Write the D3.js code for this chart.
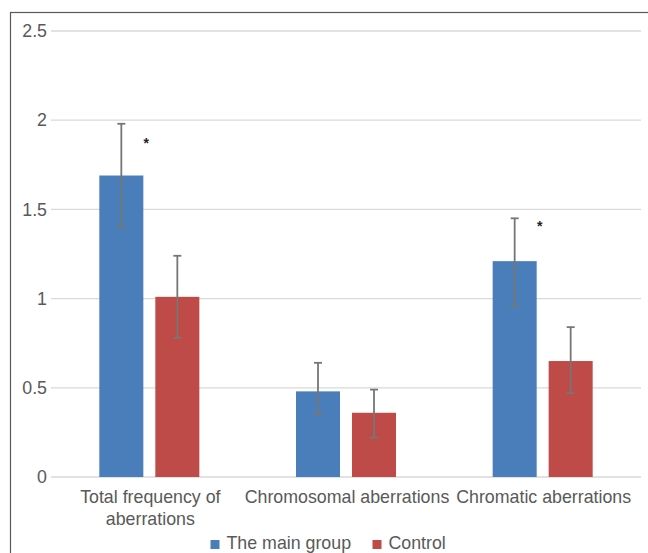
<!DOCTYPE html>
<html>
<head>
<meta charset="utf-8">
<script src="https://cdn.jsdelivr.net/npm/d3@7"></script>
<style>
  body { margin: 0; background: #fff; }
  svg text { font-family: "Liberation Sans", Arial, sans-serif; fill: #595959; }
</style>
</head>
<body>
<div id="chart"></div>
<script>
// data
var categories = ["Total frequency of\naberrations", "Chromosomal aberrations", "Chromatic aberrations"];
var series = ["The main group", "Control"];
var mainValues = [1.69, 0.48, 1.21];
var mainLow = [1.40, 0.35, 0.96];
var mainHigh = [1.98, 0.64, 1.45];
var controlValues = [1.01, 0.36, 0.65];
var controlLow = [0.78, 0.22, 0.47];
var controlHigh = [1.24, 0.49, 0.84];
var starAt = [1.88, null, 1.41];   // asterisks next to the main group bars
var yTicks = [0, 0.5, 1, 1.5, 2, 2.5];

var colors = { "The main group": "#4a7ebb", "Control": "#be4b48" };

var width = 648, height = 553;

var svg = d3.select("#chart").append("svg")
	.attr("width", width)
	.attr("height", height);

// chart frame (right and bottom edges fall off the picture)
svg.append("rect")
	.attr("x", 10.5).attr("y", 12.5)
	.attr("width", 800).attr("height", 800)
	.attr("fill", "none")
	.attr("stroke", "#595959")
	.attr("stroke-width", 1.2);

var y = d3.scaleLinear().domain([0, 2.5]).range([477, 31]);
var x0 = d3.scaleBand().domain(categories).range([51, 641]);
var bw = x0.bandwidth();
var x1 = d3.scaleBand().domain(series).range([0, bw])
	.paddingInner(0.214)
	.paddingOuter((bw / 56 - 2 + 0.214) / 2);

// gridlines + tick labels
var grid = svg.append("g");
grid.selectAll("line").data(yTicks).enter().append("line")
	.attr("x1", 51).attr("x2", 641)
	.attr("y1", function(d){ return y(d); })
	.attr("y2", function(d){ return y(d); })
	.attr("stroke", "#d9d9d9")
	.attr("stroke-width", 1.3);

grid.selectAll("text").data(yTicks).enter().append("text")
	.attr("x", 47)
	.attr("y", function(d){ return y(d); })
	.attr("dy", "0.35em")
	.attr("text-anchor", "end")
	.style("font-size", "17.8px")
	.text(function(d){ return d; });

// rows for bars
var rows = [];
categories.forEach(function(c, i){
	rows.push({ cat: c, s: "The main group", v: mainValues[i], lo: mainLow[i], hi: mainHigh[i] });
	rows.push({ cat: c, s: "Control", v: controlValues[i], lo: controlLow[i], hi: controlHigh[i] });
});

var bars = svg.append("g");
bars.selectAll("rect").data(rows).enter().append("rect")
	.attr("x", function(d){ return x0(d.cat) + x1(d.s); })
	.attr("y", function(d){ return y(d.v); })
	.attr("width", x1.bandwidth())
	.attr("height", function(d){ return y(0) - y(d.v); })
	.attr("fill", function(d){ return colors[d.s]; });

// error bars
var err = svg.append("g")
	.attr("stroke", "#767676")
	.attr("stroke-width", 1.8);
rows.forEach(function(d){
	var cx = x0(d.cat) + x1(d.s) + x1.bandwidth() / 2;
	err.append("line").attr("x1", cx).attr("x2", cx).attr("y1", y(d.hi)).attr("y2", y(d.lo));
	err.append("line").attr("x1", cx - 4).attr("x2", cx + 4).attr("y1", y(d.hi)).attr("y2", y(d.hi));
	err.append("line").attr("x1", cx - 4).attr("x2", cx + 4).attr("y1", y(d.lo)).attr("y2", y(d.lo));
});

// asterisks
categories.forEach(function(c, i){
	if (starAt[i] == null) return;
	svg.append("text")
		.attr("x", x0(c) + x1("The main group") + x1.bandwidth() + 3)
		.attr("y", y(starAt[i]) + 6)
		.attr("text-anchor", "middle")
		.style("font-size", "14px")
		.style("font-weight", "bold")
		.style("fill", "#222")
		.text("*");
});

// category labels
var xl = svg.append("g");
categories.forEach(function(c){
	var lines = c.split("\n");
	var t = xl.append("text")
		.attr("x", x0(c) + bw / 2 + 1)
		.attr("y", 503)
		.attr("text-anchor", "middle")
		.style("font-size", "17.8px");
	lines.forEach(function(l, k){
		t.append("tspan")
			.attr("x", x0(c) + bw / 2 + 1)
			.attr("dy", k === 0 ? 0 : 21.5)
			.text(l);
	});
});

// legend
var legendX = [210.5, 372.5];
var legend = svg.append("g");
series.forEach(function(s, i){
	legend.append("rect")
		.attr("x", legendX[i]).attr("y", 540)
		.attr("width", 9).attr("height", 9)
		.attr("fill", colors[s]);
	legend.append("text")
		.attr("x", legendX[i] + 16)
		.attr("y", 549)
		.style("font-size", "17.8px")
		.text(s);
});
</script>
</body>
</html>
